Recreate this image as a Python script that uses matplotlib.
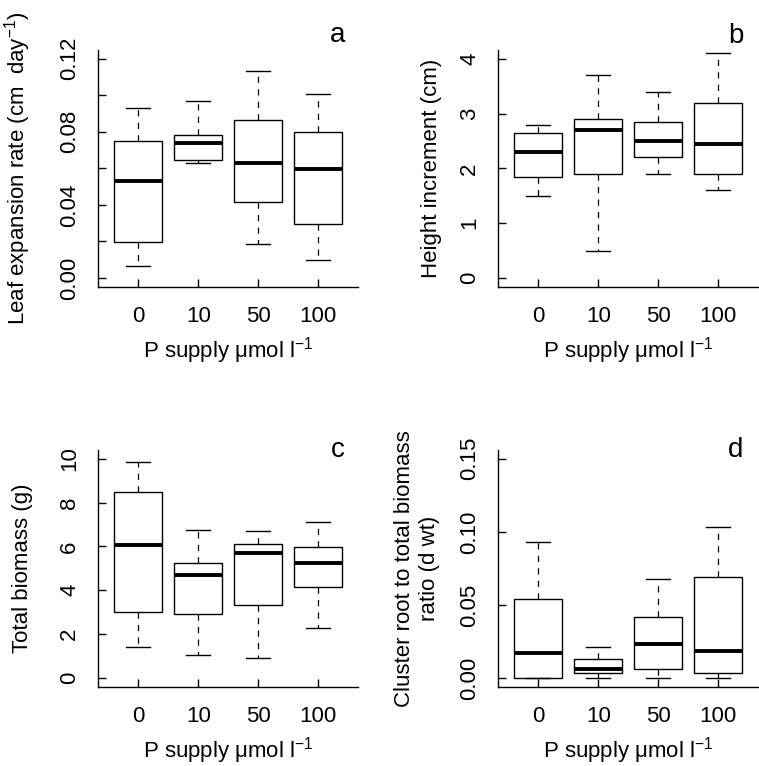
import matplotlib
matplotlib.use('Agg')
import matplotlib.pyplot as plt
import numpy as np

plt.rcParams['font.family'] = ['Liberation Sans', 'DejaVu Sans']
plt.rcParams['mathtext.fontset'] = 'custom'
plt.rcParams['mathtext.rm'] = 'Liberation Sans'
plt.rcParams['mathtext.it'] = 'Liberation Sans:italic'
plt.rcParams['mathtext.bf'] = 'Liberation Sans:bold'

groups = ['0', '10', '50', '100']

leaf_whislo = [0.0066, 0.0628, 0.0187, 0.0099]
leaf_q1 = [0.0198, 0.0643, 0.0418, 0.0293]
leaf_med = [0.0533, 0.0738, 0.0628, 0.0597]
leaf_q3 = [0.0748, 0.0782, 0.0863, 0.0797]
leaf_whishi = [0.0929, 0.0969, 0.1133, 0.1008]

height_whislo = [1.50, 0.50, 1.90, 1.60]
height_q1 = [1.85, 1.90, 2.20, 1.90]
height_med = [2.30, 2.70, 2.50, 2.45]
height_q3 = [2.65, 2.90, 2.85, 3.20]
height_whishi = [2.79, 3.70, 3.40, 4.10]

biomass_whislo = [1.41, 1.03, 0.91, 2.29]
biomass_q1 = [3.02, 2.93, 3.34, 4.13]
biomass_med = [6.05, 4.71, 5.70, 5.24]
biomass_q3 = [8.47, 5.23, 6.10, 5.99]
biomass_whishi = [9.86, 6.75, 6.72, 7.13]

ratio_whislo = [0.0, 0.0, 0.0, 0.0]
ratio_q1 = [0.0, 0.0036, 0.0064, 0.0036]
ratio_med = [0.0169, 0.0059, 0.0235, 0.0185]
ratio_q3 = [0.0540, 0.0128, 0.0419, 0.0691]
ratio_whishi = [0.0932, 0.0212, 0.0675, 0.1033]

W, H = 759, 766
fig = plt.figure(figsize=(W / 100, H / 100), dpi=100)

FS = 16


def px_axes(left, top, right, bottom):
    return [left / W, 1 - bottom / H, (right - left) / W, (bottom - top) / H]


def panel(rect, lo, q1, med, q3, hi, ylim, yticks, ylabels, ylabel, ylab_x, letter, letter_xy, ypad=13):
    ax = fig.add_axes(rect)
    stats = []
    for i in range(len(groups)):
        stats.append(dict(whislo=lo[i], q1=q1[i], med=med[i], q3=q3[i], whishi=hi[i], label=groups[i]))
    ax.bxp(stats, positions=range(1, len(groups) + 1), widths=0.8, capwidths=0.4,
           showfliers=False, patch_artist=True,
           boxprops=dict(facecolor='white', edgecolor='black', linewidth=1.0),
           medianprops=dict(color='black', linewidth=2.8, solid_capstyle='butt'),
           whiskerprops=dict(color='black', linewidth=0.9, linestyle=(0, (5, 5))),
           capprops=dict(color='black', linewidth=1.0))
    ax.set_xlim(0.333, 4.667)
    ax.set_ylim(*ylim)
    for s in ['top', 'right']:
        ax.spines[s].set_visible(False)
    for s in ['left', 'bottom']:
        ax.spines[s].set_linewidth(1.0)
    ax.set_xticks(range(1, len(groups) + 1))
    ax.set_xticklabels(groups, fontsize=FS)
    ax.set_yticks(yticks)
    ax.set_yticklabels(ylabels, fontsize=FS)
    ax.tick_params(axis='both', direction='in', length=6, width=1.0)
    ax.tick_params(axis='x', pad=14)
    ax.tick_params(axis='y', pad=ypad)
    for t in ax.get_yticklabels():
        t.set_rotation(90)
        t.set_va('center')
        t.set_ha('right')
    ax.set_xlabel(r'P supply μmol l$^{-1}$', fontsize=FS, labelpad=6)
    ax.set_ylabel(ylabel, fontsize=FS, linespacing=1.25)
    ax.yaxis.set_label_coords(ylab_x, 0.5)
    ax.text(letter_xy[0], letter_xy[1], letter, transform=ax.transAxes,
            fontsize=20, ha='center', va='baseline')
    return ax


leaf_ticks = [0.0, 0.02, 0.04, 0.06, 0.08, 0.10, 0.12]
leaf_tl = ['0.00', '', '0.04', '', '0.08', '', '0.12']
panel(px_axes(98.3, 50, 358.3, 286.7), leaf_whislo, leaf_q1, leaf_med, leaf_q3, leaf_whishi,
      (-0.0048, 0.1248), leaf_ticks, leaf_tl,
      r'Leaf expansion rate (cm  day$^{-1}$)', -0.251, 'a', (0.922, 1 + (50 - 42) / 236.7))

height_ticks = [0, 1, 2, 3, 4]
panel(px_axes(498.3, 50, 758.3, 286.7), height_whislo, height_q1, height_med, height_q3, height_whishi,
      (-0.16, 4.16), height_ticks, [str(v) for v in height_ticks],
      'Height increment (cm)', -0.2165, 'b', (0.914, 1 + (50 - 43) / 236.7))

bio_ticks = [0, 2, 4, 6, 8, 10]
panel(px_axes(98.3, 450, 358.3, 686.7), biomass_whislo, biomass_q1, biomass_med, biomass_q3, biomass_whishi,
      (-0.4, 10.4), bio_ticks, [str(v) for v in bio_ticks],
      'Total biomass (g)', -0.251, 'c', (0.922, 1 + (450 - 457) / 236.7))

ratio_ticks = [0.0, 0.05, 0.10, 0.15]
panel(px_axes(498.3, 450, 758.3, 686.7), ratio_whislo, ratio_q1, ratio_med, ratio_q3, ratio_whishi,
      (-0.006, 0.156), ratio_ticks, ['0.00', '0.05', '0.10', '0.15'],
      'Cluster root to total biomass\nratio (d wt)', -0.225, 'd', (0.914, 1 + (450 - 457) / 236.7))

fig.savefig('out.png', dpi=100)
